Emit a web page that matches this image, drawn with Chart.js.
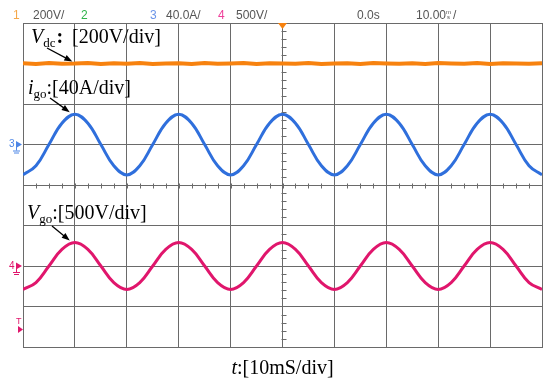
<!DOCTYPE html>
<html>
<head>
<meta charset="utf-8">
<script src="https://cdn.jsdelivr.net/npm/chart.js@4.4.0/dist/chart.umd.min.js"></script>
<style>
  body { margin: 0; background: #fff; }
  canvas { display: block; }
</style>
</head>
<body>
<canvas id="scope" width="550" height="385"></canvas>
<script>
// time axis, ms (10 ms/div, 10 divisions)
const times = [0, 2.5, 5, 7.5, 10, 12.5, 15, 17.5, 20, 22.5,
  25, 27.5, 30, 32.5, 35, 37.5, 40, 42.5, 45, 47.5,
  50, 52.5, 55, 57.5, 60, 62.5, 65, 67.5, 70, 72.5,
  75, 77.5, 80, 82.5, 85, 87.5, 90, 92.5, 95, 97.5, 100];

// channel 1: DC link voltage, V
const vdcVolts = [601, 598, 602, 599, 600, 603, 597, 601, 599, 602,
  598, 600, 601, 597, 603, 599, 600, 602, 598, 601,
  600, 599, 603, 598, 600, 601, 597, 602, 600, 599,
  601, 598, 602, 600, 599, 603, 598, 601, 600, 599, 601];

// channel 3: grid current, A
const igoAmps = [-30, -21, 0, 21, 30, 21, 0, -21, -30, -21,
  0, 21, 30, 21, 0, -21, -30, -21, 0, 21,
  30, 21, 0, -21, -30, -21, 0, 21, 30, 21,
  0, -21, -30, -21, 0, 21, 30, 21, 0, -21, -30];

// channel 4: grid voltage, V
const vgoVolts = [-290, -205, 0, 205, 290, 205, 0, -205, -290, -205,
  0, 205, 290, 205, 0, -205, -290, -205, 0, 205,
  290, 205, 0, -205, -290, -205, 0, 205, 290, 205,
  0, -205, -290, -205, 0, 205, 290, 205, 0, -205, -290];

// scope settings: units per division and ground marker (in divisions)
const vdcPerDiv = 200, vdcGround = 0;
const igoPerDiv = 40, igoGround = 1;
const vgoPerDiv = 500, vgoGround = -2;

const toDiv = (vals, perDiv, ground) => vals.map((v, i) => ({ x: times[i], y: v / perDiv + ground }));

const GRID = '#6a6a6a';
const ORANGE = '#f7820f';
const BLUE = '#2f6fdc';
const PINK = '#e0166c';
const HEAD_FONT = '12px "Liberation Sans", Arial, sans-serif';

function arrow(ctx, x1, y1, x2, y2) {
  const ang = Math.atan2(y2 - y1, x2 - x1);
  ctx.beginPath();
  ctx.moveTo(x1, y1);
  ctx.lineTo(x2 - 6 * Math.cos(ang), y2 - 6 * Math.sin(ang));
  ctx.stroke();
  ctx.beginPath();
  ctx.moveTo(x2, y2);
  ctx.lineTo(x2 - 8 * Math.cos(ang) + 3 * Math.sin(ang), y2 - 8 * Math.sin(ang) - 3 * Math.cos(ang));
  ctx.lineTo(x2 - 8 * Math.cos(ang) - 3 * Math.sin(ang), y2 - 8 * Math.sin(ang) + 3 * Math.cos(ang));
  ctx.closePath();
  ctx.fill();
}

// italic symbol + small subscript, returns x after the subscript
function symbol(ctx, x, y, main, sub) {
  ctx.font = 'italic 20px "Liberation Serif", serif';
  ctx.fillText(main, x, y);
  x += ctx.measureText(main).width;
  ctx.font = '13px "Liberation Serif", serif';
  ctx.fillText(sub, x, y + 4);
  return x + ctx.measureText(sub).width;
}

function chMarker(ctx, label, py, color) {
  ctx.fillStyle = color;
  ctx.font = '10px "Liberation Sans", sans-serif';
  ctx.textBaseline = 'middle';
  ctx.fillText(label, 9, py);
  ctx.beginPath();
  ctx.moveTo(16, py - 3.5); ctx.lineTo(22, py); ctx.lineTo(16, py + 3.5);
  ctx.closePath(); ctx.fill();
  ctx.strokeStyle = color; ctx.lineWidth = 1;
  ctx.beginPath();
  ctx.moveTo(16.5, py + 2); ctx.lineTo(16.5, py + 6);
  ctx.moveTo(13, py + 6.5); ctx.lineTo(20, py + 6.5);
  ctx.moveTo(14, py + 8.5); ctx.lineTo(19, py + 8.5);
  ctx.stroke();
  ctx.textBaseline = 'alphabetic';
}

const scopeDecor = {
  id: 'scopeDecor',
  beforeDatasetsDraw(chart) {
    const { ctx, scales: { x, y } } = chart;
    const cx = Math.round(x.getPixelForValue(50)) + 0.5;
    const cy = Math.round(y.getPixelForValue(0)) + 0.5;
    ctx.save();
    ctx.strokeStyle = GRID;
    ctx.lineWidth = 1;
    ctx.beginPath();
    for (let t = 0; t <= 100; t += 2.5) {
      const px = Math.round(x.getPixelForValue(t)) + 0.5;
      ctx.moveTo(px, cy - 2); ctx.lineTo(px, cy + 3);
    }
    for (let d = -4; d <= 4.001; d += 0.2) {
      const py = Math.round(y.getPixelForValue(d)) + 0.5;
      ctx.moveTo(cx - 2, py); ctx.lineTo(cx + 3, py);
    }
    ctx.stroke();
    ctx.restore();
  },
  afterDraw(chart) {
    const { ctx, chartArea: a, scales: { x, y } } = chart;
    ctx.save();

    // header line
    ctx.font = HEAD_FONT;
    ctx.textBaseline = 'alphabetic';
    const hy = 19;
    ctx.fillStyle = '#f5a84a'; ctx.fillText('1', 13, hy);
    ctx.fillStyle = '#555'; ctx.fillText('200V/', 33, hy);
    ctx.fillStyle = '#2fb34a'; ctx.fillText('2', 81, hy);
    ctx.fillStyle = '#6b94e8'; ctx.fillText('3', 150, hy);
    ctx.fillStyle = '#555'; ctx.fillText('40.0A/', 166, hy);
    ctx.fillStyle = '#ef3f9a'; ctx.fillText('4', 218, hy);
    ctx.fillStyle = '#555'; ctx.fillText('500V/', 236, hy);
    ctx.fillText('0.0s', 357, hy);
    ctx.fillText('10.00', 416, hy);
    let w = ctx.measureText('10.00').width;
    ctx.font = '6px "Liberation Sans", sans-serif';
    ctx.fillText('m', 416 + w, hy - 5);
    ctx.fillText('s', 417 + w, hy);
    ctx.font = HEAD_FONT;
    ctx.fillText('/', 423 + w, hy);

    // trigger position marker
    const tx = x.getPixelForValue(50);
    ctx.fillStyle = ORANGE;
    ctx.beginPath();
    ctx.moveTo(tx - 4.5, a.top); ctx.lineTo(tx + 4.5, a.top); ctx.lineTo(tx, a.top + 6);
    ctx.closePath(); ctx.fill();

    // channel ground markers
    chMarker(ctx, '3', y.getPixelForValue(igoGround), '#4d86e6');
    chMarker(ctx, '4', y.getPixelForValue(vgoGround), PINK);
    ctx.fillStyle = PINK;
    ctx.font = '9px "Liberation Sans", sans-serif';
    ctx.fillText('T', 16, 324);
    ctx.beginPath();
    ctx.moveTo(18, 326); ctx.lineTo(23, 329.5); ctx.lineTo(18, 333);
    ctx.closePath(); ctx.fill();

    // annotations
    ctx.fillStyle = '#000';
    ctx.strokeStyle = '#000';
    ctx.lineWidth = 1.3;
    const SERIF = '20px "Liberation Serif", serif';
    let ex = symbol(ctx, 31, 43, 'V', 'dc');
    ctx.font = 'bold 20px "Liberation Serif", serif';
    ctx.fillText(':', ex + 1, 43);
    ctx.font = SERIF;
    ctx.fillText('[200V/div]', 72, 43);
    arrow(ctx, 47, 48, x.getPixelForValue(9.5), y.getPixelForValue(vdcVolts[4] / vdcPerDiv + vdcGround) - 2);

    ex = symbol(ctx, 28, 94, 'i', 'go');
    ctx.font = SERIF;
    ctx.fillText(':[40A/div]', ex, 94);
    arrow(ctx, 50, 98, x.getPixelForValue(9), y.getPixelForValue(igoAmps[4] / igoPerDiv + igoGround) - 2);

    ex = symbol(ctx, 27, 219, 'V', 'go');
    ctx.font = SERIF;
    ctx.fillText(':[500V/div]', ex, 219);
    arrow(ctx, 52, 226, x.getPixelForValue(9), y.getPixelForValue(vgoVolts[4] / vgoPerDiv + vgoGround) - 2);

    ctx.font = 'italic 20px "Liberation Serif", serif';
    const tLabel = ':[10mS/div]';
    const tw = ctx.measureText('t').width;
    ctx.font = SERIF;
    const rw = ctx.measureText(tLabel).width;
    const sx = (a.left + a.right) / 2 - (tw + rw) / 2;
    ctx.font = 'italic 20px "Liberation Serif", serif';
    ctx.fillText('t', sx, 374);
    ctx.font = SERIF;
    ctx.fillText(tLabel, sx + tw, 374);

    ctx.restore();
  }
};

new Chart(document.getElementById('scope').getContext('2d'), {
  type: 'line',
  data: {
    datasets: [
      { data: toDiv(vdcVolts, vdcPerDiv, vdcGround), borderColor: ORANGE, borderWidth: 4, tension: 0 },
      { data: toDiv(vdcVolts, vdcPerDiv, vdcGround), borderColor: 'rgba(70,35,0,0.55)', borderWidth: 1, borderDash: [1, 4], tension: 0 },
      { data: toDiv(igoAmps, igoPerDiv, igoGround), borderColor: BLUE, borderWidth: 3, tension: 0.4 },
      { data: toDiv(igoAmps, igoPerDiv, igoGround), borderColor: 'rgba(20,40,110,0.35)', borderWidth: 1, borderDash: [1, 5], tension: 0.4 },
      { data: toDiv(vgoVolts, vgoPerDiv, vgoGround), borderColor: PINK, borderWidth: 3, tension: 0.4 },
      { data: toDiv(vgoVolts, vgoPerDiv, vgoGround), borderColor: 'rgba(110,10,50,0.35)', borderWidth: 1, borderDash: [1, 5], tension: 0.4 }
    ]
  },
  options: {
    responsive: false,
    animation: false,
    events: [],
    layout: { padding: { left: 23, right: 8, top: 23, bottom: 38 } },
    elements: { point: { radius: 0 } },
    plugins: { legend: { display: false }, tooltip: { enabled: false } },
    scales: {
      x: {
        type: 'linear', min: 0, max: 100,
        ticks: { display: false, stepSize: 10 },
        grid: { color: GRID, lineWidth: 1, drawTicks: false },
        border: { display: true, color: GRID, width: 1 }
      },
      y: {
        type: 'linear', min: -4, max: 4,
        ticks: { display: false, stepSize: 1 },
        grid: { color: GRID, lineWidth: 1, drawTicks: false },
        border: { display: true, color: GRID, width: 1 }
      }
    }
  },
  plugins: [scopeDecor]
});
</script>
</body>
</html>
